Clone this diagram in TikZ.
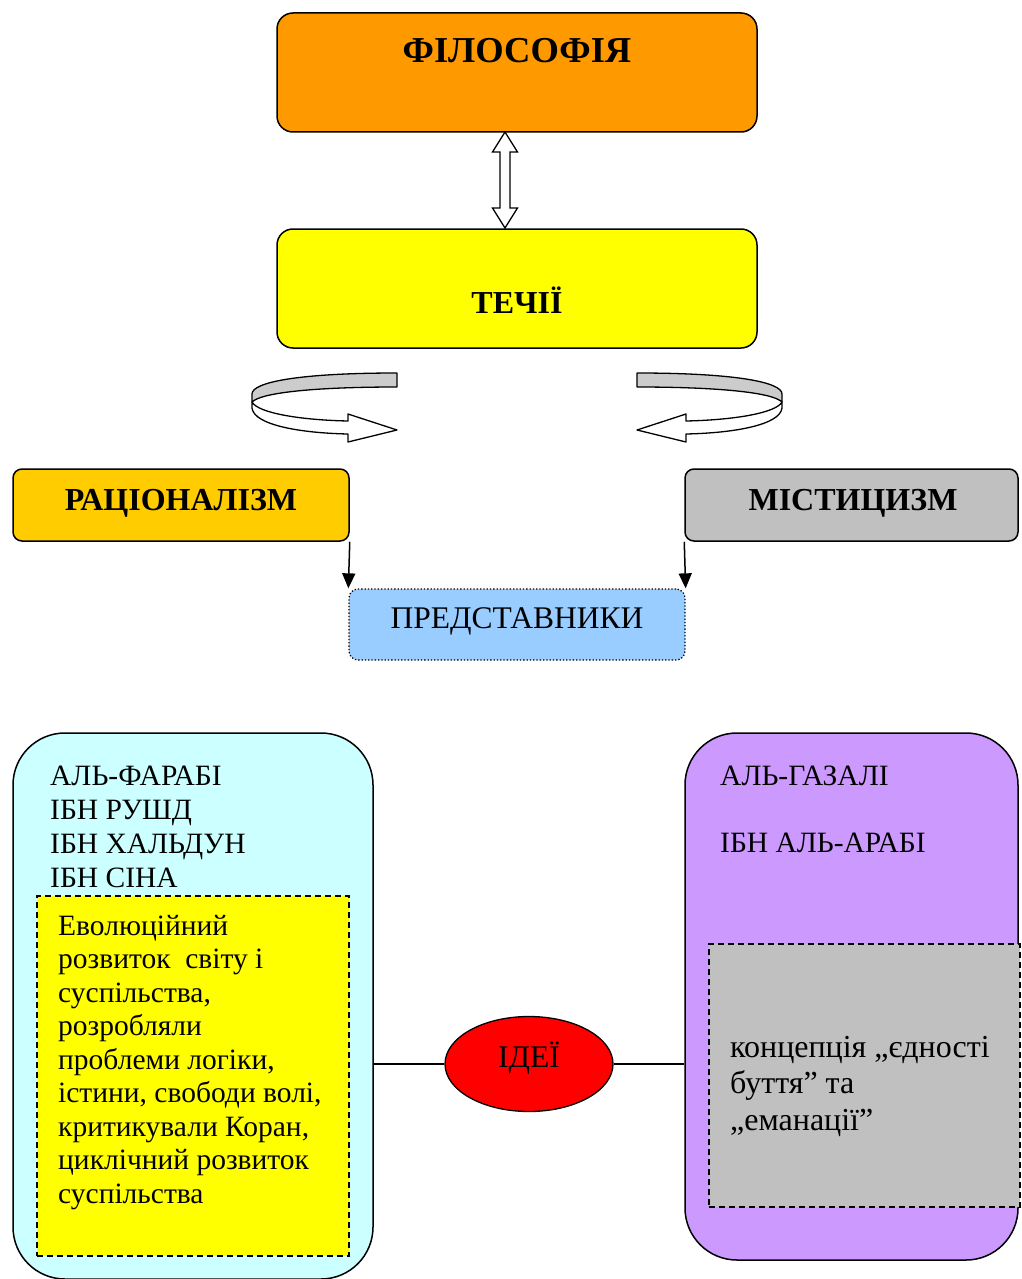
\documentclass[tikz,border=0pt]{standalone}
\usepackage{fontspec}
\setmainfont{Liberation Serif}
\usetikzlibrary{arrows.meta,shapes.geometric,calc}
\definecolor{cOrange}{HTML}{FF9900}
\definecolor{cYellow}{HTML}{FFFF00}
\definecolor{cGold}{HTML}{FFCC00}
\definecolor{cSilver}{HTML}{C0C0C0}
\definecolor{cBand}{HTML}{CCCCCC}
\definecolor{cSky}{HTML}{99CCFF}
\definecolor{cAqua}{HTML}{CCFFFF}
\definecolor{cLilac}{HTML}{CC99FF}
\definecolor{cRed}{HTML}{FF0000}
\newcommand\ribbonarrow{%
  \filldraw[fill=cBand, line width=1.3pt, line join=round]
    (397,373) .. controls (300,373) and (252,382) .. (252,394) -- (252,402)
    .. controls (262,392) and (320,387) .. (397,387) -- cycle;
  \filldraw[fill=white, line width=1.3pt, line join=round]
    (252,402) -- (252,408) .. controls (254,425) and (300,433) .. (348,434)
    -- (348,442) -- (397,430) -- (348,414) -- (348,421)
    .. controls (300,420) and (258,413) .. (252,402) -- cycle;
}
\begin{document}
\begin{tikzpicture}[x=1pt,y=-1pt,
  boxline/.style={draw=black, line width=1.5pt},
  rbox/.style={boxline, rounded corners=16pt, inner sep=0pt},
  sbox/.style={boxline, rounded corners=9pt, inner sep=0pt},
  bigbox/.style={boxline, rounded corners=52pt, inner sep=0pt},
  dbox/.style={draw=black, line width=1.3pt, dash pattern=on 6pt off 4pt, inner sep=0pt},
  titletxt/.style={font=\fontsize{32}{36}\selectfont\bfseries, inner sep=0pt},
  bigtitletxt/.style={font=\fontsize{36.5}{40}\selectfont\bfseries, inner sep=0pt},
  bodytxt/.style={font=\fontsize{29.5}{34}\selectfont, inner sep=0pt, anchor=base west},
  greytxt/.style={font=\fontsize{32}{36}\selectfont, inner sep=0pt, anchor=base west},
  midtxt/.style={font=\fontsize{31.5}{36}\selectfont, inner sep=0pt},
  downarrow/.style={line width=1.5pt, -{Triangle[length=15pt,width=13pt]}},
  plainline/.style={line width=1.3pt}
]
\useasboundingbox (0,0) rectangle (1021,1279);

% top boxes
\node[rbox, fill=cOrange, minimum width=480, minimum height=119] (filo) at (517,72.5) {};
\node[bigtitletxt] (filoT) at (517,51) {ФІЛОСОФІЯ};
\node[rbox, fill=cYellow, minimum width=480, minimum height=119] (tech) at (517,288.5) {};
\node[titletxt] (techT) at (517,300) {ТЕЧІЇ};

% hollow double arrow
\coordinate (dTop) at (505,132);
\coordinate (dBot) at (505,228);
\filldraw[fill=white, line width=1.3pt, line join=miter]
  (dTop) -- ($(dTop)+(12.5,20)$) -- ($(dTop)+(5,20)$) -- ($(dBot)+(5,-20)$)
  -- ($(dBot)+(12.5,-20)$) -- (dBot) -- ($(dBot)+(-12.5,-20)$) -- ($(dBot)+(-5,-20)$)
  -- ($(dTop)+(-5,20)$) -- ($(dTop)+(-12.5,20)$) -- cycle;

% curved ribbon arrows
\ribbonarrow
\begin{scope}[xshift=1034pt, xscale=-1]
  \ribbonarrow
\end{scope}

% second row
\node[sbox, fill=cGold, minimum width=336, minimum height=72] (rat) at (181,505) {};
\node[titletxt] (ratT) at (181,503.5) {РАЦІОНАЛІЗМ};
\node[sbox, fill=cSilver, minimum width=333, minimum height=72] (mist) at (851.5,505) {};
\node[titletxt] (mistT) at (853,503.5) {МІСТИЦИЗМ};

\node[draw=black, line width=1.3pt, dotted, rounded corners=9pt, fill=cSky,
      minimum width=336, minimum height=71, inner sep=0pt] (pred) at (517,624.5) {};
\node[midtxt] (predT) at (517,621) {ПРЕДСТАВНИКИ};

\draw[downarrow] (rat.south east) -- (pred.north west);
\draw[downarrow] (mist.south west) -- (pred.north east);

% bottom big boxes
\node[bigbox, fill=cAqua, minimum width=360, minimum height=546] (lbox) at (193,1006) {};
\node[bigbox, fill=cLilac, minimum width=333, minimum height=527] (rbox) at (851.5,996.5) {};

\node[dbox, fill=cYellow, minimum width=312, minimum height=360] (ybox) at (193,1076) {};
\node[dbox, fill=cSilver, minimum width=311, minimum height=263] (gbox) at (864.5,1075.5) {};

% ideas ellipse and links
\node[ellipse, draw=black, line width=1.3pt, fill=cRed, minimum width=168, minimum height=95, inner sep=0pt] (ideas) at (529,1064) {};
\node[midtxt, anchor=base] (ideasT) at (529,1067) {ІДЕЇ};
\draw[plainline] (ideas.west) -- (ideas.west -| lbox.east);
\draw[plainline] (ideas.east) -- (ideas.east -| rbox.west);

% texts in left box
\foreach \t [count=\i] in {АЛЬ-ФАРАБІ, ІБН РУШД, ІБН ХАЛЬДУН, ІБН СІНА}
  \node[bodytxt] (ln\i) at (50,{785+34*(\i-1)}) {\t};

\foreach \t [count=\i] in {Еволюційний, {розвиток\ \ світу і}, {суспільства,}, розробляли,
    {проблеми логіки,}, {істини, свободи волі,}, {критикували Коран,}, {циклічний розвиток}, суспільства}
  \node[bodytxt] (yl\i) at (58,{935+33.5*(\i-1)}) {\t};

% texts in right box
\node[bodytxt] (rn1) at (720,785) {АЛЬ-ГАЗАЛІ};
\node[bodytxt] (rn2) at (720,852) {ІБН АЛЬ-АРАБІ};

\node[greytxt] (gl1) at (730,1057) {концепція „єдності};
\node[greytxt] (gl2) at (730,1093.5) {буття” та};
\node[greytxt] (gl3) at (730,1130) {„еманації”};
\end{tikzpicture}
\end{document}
